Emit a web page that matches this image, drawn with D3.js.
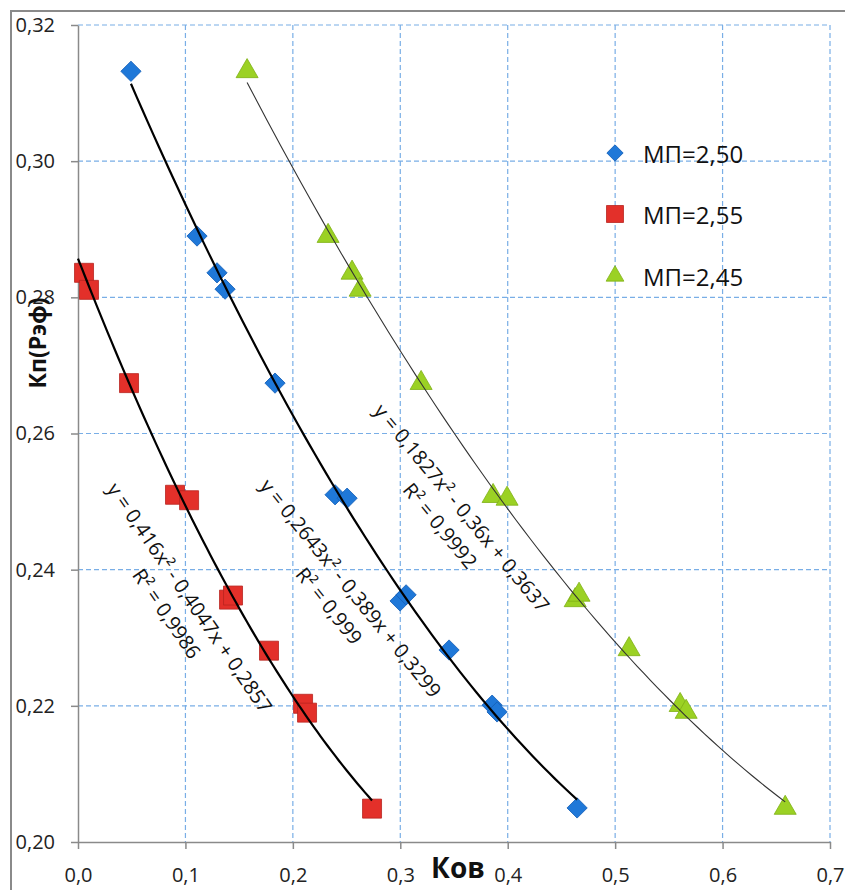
<!DOCTYPE html>
<html>
<head>
<meta charset="utf-8">
<script src="https://cdn.jsdelivr.net/npm/d3@7"></script>
<style>
  html, body { margin: 0; padding: 0; background: #fff; }
  svg { display: block; font-family: "Open Sans", "DejaVu Sans", sans-serif; }
</style>
</head>
<body>
<svg id="chart" width="845" height="890"></svg>
<script>
// ---------------- data ----------------
const seriesNames = ["МП=2,50", "МП=2,55", "МП=2,45"];

const kovMP250 = [0.0493, 0.1108, 0.1294, 0.1369, 0.1834, 0.2393, 0.2505, 0.2998, 0.3054, 0.3454, 0.3855, 0.3901, 0.4646];
const kpMP250  = [0.3132, 0.2890, 0.2836, 0.2812, 0.2674, 0.2510, 0.2505, 0.2354, 0.2363, 0.2282, 0.2201, 0.2191, 0.2050];

const kovMP255 = [0.0056, 0.0102, 0.0475, 0.0903, 0.1034, 0.1406, 0.1443, 0.1778, 0.2095, 0.2132, 0.2737];
const kpMP255  = [0.2836, 0.2811, 0.2674, 0.2510, 0.2502, 0.2356, 0.2362, 0.2281, 0.2203, 0.2190, 0.2049];

const kovMP245 = [0.1574, 0.2328, 0.2551, 0.2626, 0.3194, 0.3864, 0.3994, 0.4628, 0.4664, 0.5130, 0.5605, 0.5661, 0.6583];
const kpMP245  = [0.3132, 0.2890, 0.2836, 0.2811, 0.2674, 0.2508, 0.2504, 0.2355, 0.2363, 0.2283, 0.2201, 0.2191, 0.2050];

// polynomial trendline coefficients [a, b, c] : y = a x^2 + b x + c
const trendMP250 = [0.2643, -0.389, 0.3299];
const trendMP255 = [0.416, -0.4047, 0.2857];
const trendMP245 = [0.1827, -0.36, 0.3637];
// start of trendline (null = first data point)
const trendStart = [null, 0.0, null];

const eqLabels = ["y = 0,2643x² - 0,389x + 0,3299", "y = 0,416x² - 0,4047x + 0,2857", "y = 0,1827x² - 0,36x + 0,3637"];
const r2Labels = ["R² = 0,999", "R² = 0,9986", "R² = 0,9992"];

const xTicks = [0, 0.1, 0.2, 0.3, 0.4, 0.5, 0.6, 0.7];
const yTicks = [0.20, 0.22, 0.24, 0.26, 0.28, 0.30, 0.32];
const xTitle = "Ков";
const yTitle = "Кп(Рэф)";

// ---------------- layout ----------------
const svg = d3.select("#chart");
const pL = 78, pR = 830, pT = 25, pB = 842;
const x = d3.scaleLinear().domain([0, 0.7]).range([pL, pR]);
const y = d3.scaleLinear().domain([0.20, 0.32]).range([pB, pT]);

const loc = d3.formatLocale({decimal: ",", thousands: " ", grouping: [3], currency: ["", ""]});
const fx = loc.format(".1f"), fy = loc.format(".2f");

const colors = ["#1f78d8", "#e3302a", "#9bd124"];
const strokes = ["#1560b8", "#b82420", "#7fb015"];

// outer frame
svg.append("rect").attr("x", 11).attr("y", 11).attr("width", 900).attr("height", 900)
  .attr("fill", "none").attr("stroke", "#8a8a8a").attr("stroke-width", 2);

// grid
const grid = svg.append("g").attr("fill", "none").attr("stroke", "#79aee6")
  .attr("stroke-width", 1.2).attr("stroke-dasharray", "5,3");
grid.selectAll("line.v").data(xTicks.filter(d => d > 0)).join("line")
  .attr("x1", d => x(d)).attr("x2", d => x(d)).attr("y1", y(0.32)).attr("y2", y(0.20));
grid.selectAll("line.h").data(yTicks.filter(d => d > 0.2001)).join("line")
  .attr("y1", d => y(d)).attr("y2", d => y(d)).attr("x1", x(0)).attr("x2", x(0.7));

// axes
const axX = svg.append("g").attr("transform", `translate(0,${pB})`)
  .call(d3.axisBottom(x).tickValues(xTicks).tickFormat(fx).tickSize(7).tickPadding(19).tickSizeOuter(0));
const axY = svg.append("g").attr("transform", `translate(${pL},0)`)
  .call(d3.axisLeft(y).tickValues(yTicks).tickFormat(fy).tickSize(7).tickPadding(16).tickSizeOuter(0));
[axX, axY].forEach(a => {
  a.select(".domain").attr("stroke", "#8a8a8a").attr("stroke-width", 1.5);
  a.selectAll(".tick line").attr("stroke", "#8a8a8a").attr("stroke-width", 1.5);
  a.selectAll(".tick text").attr("fill", "#222").style("font-size", "20px")
    .style("font-family", '"Open Sans", sans-serif');
});

// axis titles
svg.append("text").attr("x", 458).attr("y", 878).attr("text-anchor", "middle")
  .style("font-size", "28px").style("font-weight", "bold").attr("fill", "#111").text(xTitle);
svg.append("text").attr("transform", "translate(46,343) rotate(-90)").attr("text-anchor", "middle")
  .style("font-size", "23px").style("font-weight", "bold").attr("fill", "#111").text(yTitle);

// series
const series = [
  {kov: kovMP250, kp: kpMP250, coef: trendMP250, shape: "diamond", lw: 2.2, lc: "#000"},
  {kov: kovMP255, kp: kpMP255, coef: trendMP255, shape: "square", lw: 2.2, lc: "#000"},
  {kov: kovMP245, kp: kpMP245, coef: trendMP245, shape: "triangle", lw: 1.1, lc: "#333"}
];

function symbolPath(shape, scale) {
  if (shape === "diamond") return d3.symbol(d3.symbolSquare, 205 * scale)();
  if (shape === "square") return d3.symbol(d3.symbolSquare, 361 * scale)();
  return d3.symbol(d3.symbolTriangle, 210 * scale)();
}

series.forEach((s, i) => {
  const pts = s.kov.map((k, j) => [k, s.kp[j]]);
  svg.append("g").selectAll("path").data(pts).join("path")
    .attr("d", symbolPath(s.shape, 1))
    .attr("transform", d => `translate(${x(d[0])},${y(d[1])})` + (s.shape === "diamond" ? " rotate(45)" : ""))
    .attr("fill", colors[i]).attr("stroke", strokes[i]).attr("stroke-width", 0.8);
});

series.forEach((s, i) => {
  const x0 = trendStart[i] !== null ? trendStart[i] : d3.min(s.kov);
  const x1 = d3.max(s.kov);
  const n = 80;
  const xs = d3.range(n + 1).map(k => x0 + (x1 - x0) * k / n);
  const line = d3.line().x(d => x(d)).y(d => y(s.coef[0] * d * d + s.coef[1] * d + s.coef[2])).curve(d3.curveLinear);
  svg.append("path").datum(xs).attr("d", line).attr("fill", "none")
    .attr("stroke", s.lc).attr("stroke-width", s.lw);
});

// trendline equation labels (center of first line in data coords, angle)
const labelPos = [[0.2542, 0.2373, 51], [0.1043, 0.2359, 55.5], [0.3575, 0.2491, 50.5]];
labelPos.forEach((p, i) => {
  const g = svg.append("g").attr("transform", `translate(${x(p[0])},${y(p[1])}) rotate(${p[2]})`)
    .attr("fill", "#111").style("font-size", "20px");
  g.append("text").attr("text-anchor", "middle").attr("dominant-baseline", "central").text(eqLabels[i]);
  g.append("text").attr("text-anchor", "middle").attr("dominant-baseline", "central").attr("y", 28).text(r2Labels[i]);
});

// legend
const legY = [153, 214, 276];
const legend = svg.append("g");
series.forEach((s, i) => {
  legend.append("path").attr("d", symbolPath(s.shape, s.shape === "square" ? 0.8 : 0.65))
    .attr("transform", `translate(615,${legY[i]})` + (s.shape === "diamond" ? " rotate(45)" : ""))
    .attr("fill", colors[i]).attr("stroke", strokes[i]).attr("stroke-width", 0.8);
  legend.append("text").attr("x", 643).attr("y", legY[i]).attr("dominant-baseline", "central")
    .style("font-size", "24px").attr("fill", "#111").text(seriesNames[i]);
});
</script>
</body>
</html>
